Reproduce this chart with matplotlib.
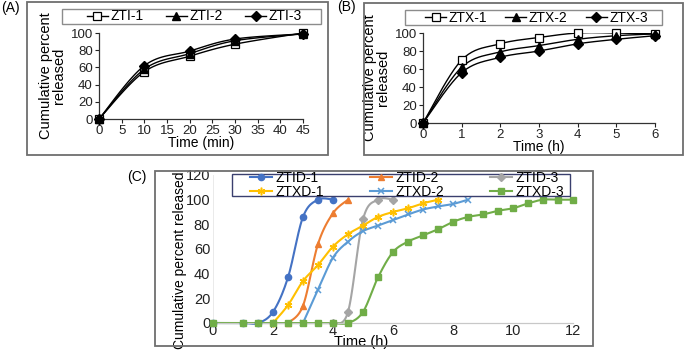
import numpy as np
import matplotlib.pyplot as plt
from matplotlib.patches import Rectangle

plt.rcParams['font.family'] = ['Liberation Sans', 'DejaVu Sans']

# (A) ZTI release, time in minutes
t_a = [0, 10, 20, 30, 45]
zti_1 = [0, 55, 73, 87, 100]
zti_2 = [0, 58, 76, 91, 99]
zti_3 = [0, 62, 79, 93, 99]

# (B) ZTX release, time in hours
t_b = [0, 1, 2, 3, 4, 5, 6]
ztx_1 = [0, 70, 88, 95, 100, 100, 99]
ztx_2 = [0, 62, 79, 86, 93, 97, 99]
ztx_3 = [0, 56, 73, 80, 88, 93, 97]

# (C) delayed release, time in hours
t_c = [0, 1, 1.5, 2, 2.5, 3, 3.5, 4, 4.5, 5, 5.5, 6, 6.5, 7, 7.5, 8,
       8.5, 9, 9.5, 10, 10.5, 11, 11.5, 12]
ztid_1_t = [0, 1, 1.5, 2, 2.5, 3, 3.5, 4]
ztid_1 = [0, 0, 0, 9, 37, 86, 100, 100]
ztid_2_t = [2.5, 3, 3.5, 4, 4.5]
ztid_2 = [0, 14, 64, 89, 100]
ztid_3_t = [4, 4.5, 5, 5.5, 6]
ztid_3 = [0, 9, 84, 100, 100]
ztxd_1_t = [2, 2.5, 3, 3.5, 4, 4.5, 5, 5.5, 6, 6.5, 7, 7.5]
ztxd_1 = [0, 14.5, 34, 47, 62, 72, 79, 86, 90, 93, 97, 100]
ztxd_2_t = [3, 3.5, 4, 4.5, 5, 5.5, 6, 6.5, 7, 7.5, 8, 8.5]
ztxd_2 = [0, 27, 53, 66, 74.5, 79, 83.5, 88, 92, 94.5, 96.5, 100]
ztxd_3 = [0, 0, 0, 0, 0, 0, 0, 0, 0, 9, 37, 57.5, 66, 71, 76, 82,
          86, 88, 91, 93, 97, 100, 100, 100]


def smooth(x, y, n=24):
    # Excel-style smoothed line through the points (Bezier, tension 1/6)
    p = np.column_stack([x, y]).astype(float)
    if len(p) < 3:
        return p[:, 0], p[:, 1]
    ext = np.vstack([p[0], p, p[-1]])
    out = [p[:1]]
    s = np.linspace(0, 1, n)[1:, None]
    for i in range(1, len(ext) - 2):
        p0, p1, p2, p3 = ext[i - 1], ext[i], ext[i + 1], ext[i + 2]
        c1 = p1 + (p2 - p0) / 6
        c2 = p2 - (p3 - p1) / 6
        seg = ((1 - s) ** 3) * p1 + 3 * ((1 - s) ** 2) * s * c1 \
            + 3 * (1 - s) * s ** 2 * c2 + s ** 3 * p2
        out.append(seg)
    q = np.vstack(out)
    return q[:, 0], q[:, 1]


fig = plt.figure(figsize=(6.85, 3.51), dpi=100)
W, H = 685, 351


def fbox(x0, y0, x1, y1):
    return [x0 / W, 1 - y1 / H, (x1 - x0) / W, (y1 - y0) / H]


def panel_frame(x0, y0, x1, y1):
    l, b, w, h = fbox(x0, y0, x1, y1)
    fig.patches.append(Rectangle((l, b), w, h, transform=fig.transFigure,
                                 fill=False, edgecolor='#6e6e6e', lw=1.3))


def legend_frame(x0, y0, x1, y1, color):
    l, b, w, h = fbox(x0, y0, x1, y1)
    fig.patches.append(Rectangle((l, b), w, h, transform=fig.transFigure,
                                 fill=False, edgecolor=color, lw=1.0, zorder=5))


panel_frame(27, 2, 328, 155)
panel_frame(364, 3, 683, 155)
panel_frame(155, 171, 593, 346)

fig.text(1 / W, 1 - 8 / H, '(A)', fontsize=10, va='center', ha='left')
fig.text(337 / W, 1 - 7 / H, '(B)', fontsize=10, va='center', ha='left')
fig.text(127 / W, 1 - 177 / H, '(C)', fontsize=10, va='center', ha='left')

mk_ab = [dict(marker='s', mfc='white', mec='black', ms=6, mew=0.9),
         dict(marker='^', mfc='black', mec='black', ms=6),
         dict(marker='D', mfc='black', mec='black', ms=5)]


def small_panel(rect, t, series, names, xticks, xlabel, leg_box, colsp):
    ax = fig.add_axes(rect)
    handles = []
    for ys, name, mk in zip(series, names, mk_ab):
        sx, sy = smooth(t, ys)
        ax.plot(sx, sy, color='black', lw=1.0, zorder=2)
        ax.plot(t, ys, ls='none', clip_on=False, zorder=3, **mk)
        h, = ax.plot([], [], color='black', lw=1.0, label=name, **mk)
        handles.append(h)
    ax.set_xlim(xticks[0], xticks[-1])
    ax.set_ylim(0, 100)
    ax.set_xticks(xticks)
    ax.set_yticks(range(0, 101, 20))
    for s in ['top', 'right']:
        ax.spines[s].set_visible(False)
    for s in ['left', 'bottom']:
        ax.spines[s].set_color('#333333')
        ax.spines[s].set_linewidth(0.9)
    ax.tick_params(labelsize=9.5, length=3, width=0.8, pad=1.5, colors='#222222')
    ax.set_xlabel(xlabel, fontsize=10, labelpad=-1)
    ax.set_ylabel('Cumulative percent\nreleased', fontsize=10.5,
                  linespacing=0.95, labelpad=3)
    legend_frame(*leg_box, '#8c8c8c')
    cx = (leg_box[0] + leg_box[2]) / 2 / W + 3 / W
    cy = 1 - (leg_box[1] + leg_box[3]) / 2 / H
    fig.legend(handles=handles, loc='center', bbox_to_anchor=(cx, cy),
               ncol=3, frameon=False, fontsize=10, handlelength=1.5,
               handletextpad=0.2, columnspacing=colsp, borderpad=0)
    return ax


small_panel(fbox(99, 33, 303, 119), t_a, [zti_1, zti_2, zti_3],
            ['ZTI-1', 'ZTI-2', 'ZTI-3'], list(range(0, 46, 5)),
            'Time (min)', (62, 9, 321, 24), 1.6)
small_panel(fbox(423, 33, 655, 123), t_b, [ztx_1, ztx_2, ztx_3],
            ['ZTX-1', 'ZTX-2', 'ZTX-3'], list(range(0, 7)),
            'Time (h)', (405, 10, 662, 25), 1.3)

# (C)
axc = fig.add_axes(fbox(213, 175, 573, 323))
c_series = [
    (ztid_1_t, ztid_1, 'ZTID-1', '#4472C4', dict(marker='o', ms=4.5)),
    (ztid_2_t, ztid_2, 'ZTID-2', '#ED7D31', dict(marker='^', ms=5)),
    (ztid_3_t, ztid_3, 'ZTID-3', '#A5A5A5', dict(marker='D', ms=3.8)),
    (ztxd_1_t, ztxd_1, 'ZTXD-1', '#FFC000', dict(marker=(6, 2, 0), ms=5.5, mew=1.1)),
    (ztxd_2_t, ztxd_2, 'ZTXD-2', '#5B9BD5', dict(marker='x', ms=4.5, mew=1.1)),
    (t_c, ztxd_3, 'ZTXD-3', '#70AD47', dict(marker='s', ms=4.5)),
]
c_handles = {}
for xs, ys, name, col, mk in c_series:
    sx, sy = smooth(xs, ys)
    axc.plot(sx, sy, color=col, lw=1.5, zorder=2, clip_on=False)
    axc.plot(xs, ys, ls='none', color=col, mec=col, mfc=col, clip_on=False,
             zorder=3, **mk)
    h, = axc.plot([], [], color=col, lw=1.5, mec=col, mfc=col, label=name, **mk)
    c_handles[name] = h
axc.set_xlim(0, 12)
axc.set_ylim(0, 120)
axc.set_xticks(range(0, 13, 2))
axc.set_yticks(range(0, 121, 20))
for s in ['top', 'right']:
    axc.spines[s].set_visible(False)
axc.spines['left'].set_color('#e6e6e6')
axc.spines['left'].set_linewidth(0.6)
axc.spines['bottom'].set_color('#c8c8c8')
axc.spines['bottom'].set_linewidth(0.9)
axc.tick_params(length=0, labelsize=10.5, colors='#222222')
axc.tick_params(axis='x', pad=1)
axc.tick_params(axis='y', pad=2)
axc.set_xlabel('Time (h)', fontsize=10.5, va='center')
axc.xaxis.set_label_coords(148 / 360, -19 / 148)
axc.set_ylabel('Cumulative percent released', fontsize=10, va='center')
axc.yaxis.set_label_coords(-33 / 360, 63 / 148)

legend_frame(232, 174, 570, 196, '#3a3f6e')
order = ['ZTID-1', 'ZTXD-1', 'ZTID-2', 'ZTXD-2', 'ZTID-3', 'ZTXD-3']
fig.legend(handles=[c_handles[k] for k in order], loc='center',
           bbox_to_anchor=((232 + 570) / 2 / W + 6 / W, 1 - 185 / H), ncol=3,
           frameon=False, fontsize=10, handlelength=1.6, handletextpad=0.25,
           columnspacing=3.3, labelspacing=-0.05, borderpad=0)

fig.savefig('out.png', dpi=100)
